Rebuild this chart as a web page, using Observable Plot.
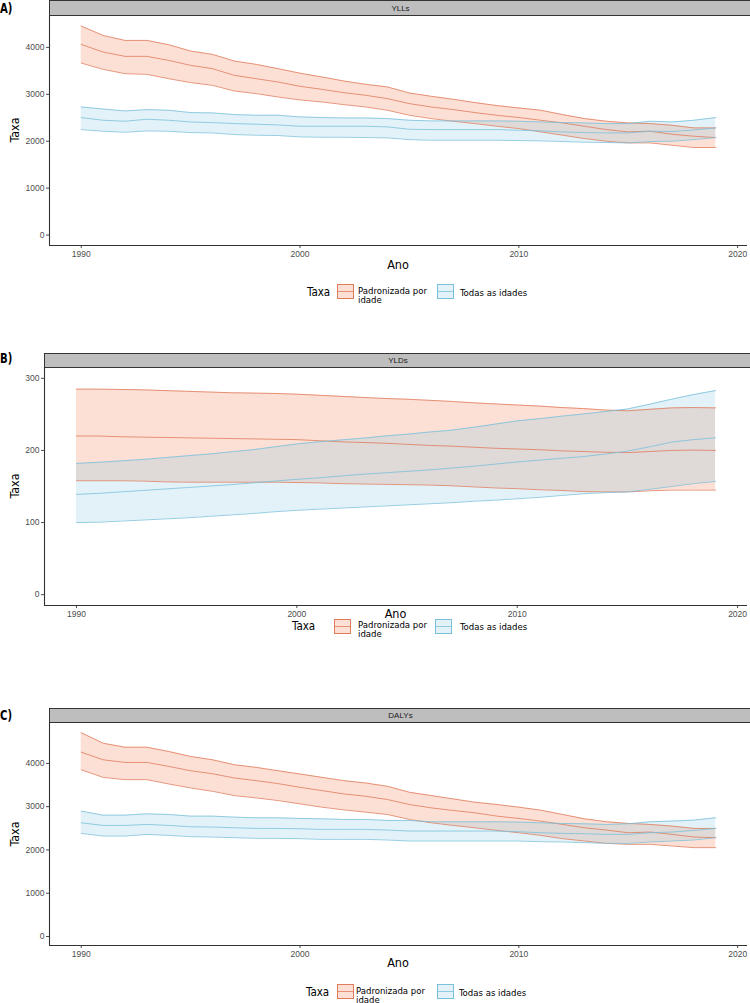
<!DOCTYPE html>
<html><head><meta charset="utf-8">
<script src="https://cdn.jsdelivr.net/npm/d3@7"></script>
<script src="https://cdn.jsdelivr.net/npm/@observablehq/plot@0.6"></script>
<style>
body{margin:0;background:#fff;}
#root{position:relative;width:750px;height:1003px;overflow:hidden;font-family:"Liberation Sans",Arial,sans-serif;}
.abs{position:absolute;white-space:nowrap;}
.cond{font-family:"Liberation Sans Narrow","DejaVu Sans Condensed","Roboto Condensed",sans-serif;}
.strip{position:absolute;background:#BEBEBE;border:1px solid #333;box-sizing:border-box;font-size:8px;color:#1a1a1a;display:flex;align-items:center;justify-content:center;}
</style></head><body><div id="root"></div>
<script>
const years = [1990,1991,1992,1993,1994,1995,1996,1997,1998,1999,2000,2001,2002,2003,2004,2005,2006,2007,2008,2009,2010,2011,2012,2013,2014,2015,2016,2017,2018,2019];
const seriesNames = ["Padronizada por idade", "Todas as idades"];
const legendTitle = "Taxa";
const xLabel = "Ano";
const yLabel = "Taxa";
const xTicks = [1990, 2000, 2010, 2020];

// A) YLLs
const A_std_hi  = [4455,4255,4149,4149,4057,3922,3851,3709,3638,3546,3450,3369,3284,3213,3156,3028,2957,2894,2823,2759,2709,2660,2567,2482,2426,2390,2376,2340,2284,2284];
const A_std_mid = [4064,3900,3809,3809,3723,3617,3546,3404,3333,3262,3170,3106,3035,2979,2908,2801,2730,2674,2610,2553,2504,2447,2390,2319,2248,2199,2213,2149,2106,2078];
const A_std_lo  = [3666,3532,3440,3426,3333,3249,3191,3071,3014,2943,2880,2837,2780,2730,2660,2553,2482,2426,2376,2319,2270,2199,2128,2057,2000,1964,1964,1915,1866,1866];
const A_all_hi  = [2730,2687,2645,2674,2660,2610,2603,2568,2553,2553,2518,2504,2496,2496,2482,2447,2433,2433,2433,2433,2426,2411,2397,2390,2376,2376,2426,2411,2447,2504];
const A_all_mid = [2504,2447,2426,2468,2447,2411,2397,2376,2362,2347,2319,2319,2319,2319,2305,2255,2248,2248,2248,2248,2234,2220,2199,2184,2177,2177,2213,2206,2240,2284];
const A_all_lo  = [2248,2213,2191,2220,2213,2184,2177,2142,2128,2121,2092,2085,2085,2078,2071,2035,2021,2021,2021,2021,2014,2007,1993,1979,1972,1964,1993,2000,2035,2078];

// B) YLDs
const B_std_hi  = [285,285,284.5,284,283,282,281,280,279.5,279,278,276.5,275,273.5,272,271,269.5,268,266,264.5,263,261.5,259.5,258,256,255,257,259,259.5,259];
const B_std_mid = [220,220,219,218.5,218,217.5,217,216.5,216,215.5,215,213.5,212,211,210,208.5,207,206,204.5,203,202,201,199.5,198.5,197.5,197,198.5,200,200.5,200];
const B_std_lo  = [158,158,158,157.5,156.5,156,156,156,156,156,155.5,155,154,153.5,153,152.5,152,151,149.5,148,147,145.5,144.5,143,142.5,142.5,144,145,145,145];
const B_all_hi  = [182,183.5,185.5,187.5,190,192.5,195,198,201,205,209,212,214.5,217,220,222.5,225.5,228,232,236.5,241,244,247.5,250.5,254,257.5,264,271,277.5,283];
const B_all_mid = [139,140.5,142.5,144.5,146.5,148.5,150.5,152.5,155,157.5,160,162,164.5,167,169,171,173,175.5,178,181,184,186.5,189,191.5,195,199,205,211.5,215,217.5];
const B_all_lo  = [100,100.5,102,103.5,105,106.5,108.5,110.5,112.5,115,117,118.5,120,121.5,123,124.5,126,127.5,129.5,131,133,135,137.5,140,141.5,142.5,146,150,154,157];

// C) DALYs
const C_std_hi  = [4710,4467,4375,4375,4276,4161,4084,3969,3908,3831,3755,3678,3602,3548,3471,3333,3257,3180,3103,3050,2989,2920,2820,2720,2652,2613,2590,2552,2498,2498];
const C_std_mid = [4261,4084,4023,4023,3931,3831,3762,3663,3602,3533,3448,3372,3295,3241,3165,3050,2973,2912,2858,2782,2728,2667,2590,2513,2460,2398,2414,2360,2299,2284];
const C_std_lo  = [3854,3678,3625,3625,3525,3433,3356,3257,3203,3142,3065,2989,2927,2874,2820,2705,2628,2567,2513,2452,2398,2337,2261,2207,2153,2130,2130,2092,2054,2054];
const C_all_hi  = [2897,2805,2805,2835,2820,2782,2782,2759,2743,2743,2728,2720,2705,2705,2682,2682,2652,2652,2652,2652,2644,2628,2613,2605,2590,2605,2652,2667,2690,2743];
const C_all_mid = [2628,2567,2567,2590,2567,2536,2529,2513,2498,2498,2490,2475,2475,2475,2460,2437,2437,2437,2437,2437,2421,2398,2383,2375,2360,2360,2398,2414,2452,2498];
const C_all_lo  = [2383,2322,2322,2360,2337,2307,2299,2284,2268,2268,2261,2245,2245,2245,2230,2207,2207,2207,2207,2207,2207,2192,2184,2169,2153,2153,2184,2207,2230,2284];

const fillCol = {"Padronizada por idade": "#F06432", "Todas as idades": "#6EBEDC"};
const lineCol = {"Padronizada por idade": "#E07B5C", "Todas as idades": "#7BC0DA"};

function rows(name, lo, mid, hi) {
  return years.map((y, i) => ({year: y, series: name, lo: lo[i], mid: mid[i], hi: hi[i]}));
}

const panels = [
  {tag: "A)", tagY: 1, strip: "YLLs", stripTop: 0, stripBottom: 15, left: 49, plotTop: 15, plotBottom: 245,
   yDomain: [-223, 4680], yTicks: [0, 1000, 2000, 3000, 4000], anoY: 264, legendY: 291.5,
   lg: {taxa: 307, k1: 337, t1: 358, k2: 437, t2: 460},
   std: rows(seriesNames[0], A_std_lo, A_std_mid, A_std_hi), all: rows(seriesNames[1], A_all_lo, A_all_mid, A_all_hi)},
  {tag: "B)", tagY: 351, strip: "YLDs", stripTop: 352.5, stripBottom: 367, left: 44, plotTop: 367, plotBottom: 605,
   yDomain: [-15, 315], yTicks: [0, 100, 200, 300], anoY: 613, legendY: 626,
   lg: {taxa: 292, k1: 334, t1: 358, k2: 435, t2: 460},
   std: rows(seriesNames[0], B_std_lo, B_std_mid, B_std_hi), all: rows(seriesNames[1], B_all_lo, B_all_mid, B_all_hi)},
  {tag: "C)", tagY: 708, strip: "DALYs", stripTop: 707.5, stripBottom: 722, left: 49, plotTop: 722, plotBottom: 945,
   yDomain: [-208, 4946], yTicks: [0, 1000, 2000, 3000, 4000], anoY: 962, legendY: 991.5,
   lg: {taxa: 306, k1: 337, t1: 356, k2: 437, t2: 459},
   std: rows(seriesNames[0], C_std_lo, C_std_mid, C_std_hi), all: rows(seriesNames[1], C_all_lo, C_all_mid, C_all_hi)}
];

const root = document.getElementById("root");
const xDomain = [1988.55, 2020.45];
const plotRight = 747;

function addDiv(html, css, cls) {
  const d = document.createElement("div");
  d.className = "abs " + (cls || "");
  d.innerHTML = html;
  Object.assign(d.style, css);
  root.appendChild(d);
  return d;
}

function keySvg(name) {
  return `<svg width="17" height="15" style="display:block"><rect x="0.5" y="0.5" width="16" height="14" fill="${fillCol[name]}" fill-opacity="0.2" stroke="${lineCol[name]}" stroke-width="1"/><line x1="0.5" x2="16.5" y1="7.5" y2="7.5" stroke="${lineCol[name]}" stroke-width="0.8"/></svg>`;
}

for (const p of panels) {
  // tag
  addDiv(p.tag, {left: "0px", top: p.tagY + "px", fontSize: "14px", fontWeight: "bold", color: "#000", lineHeight: "14px", transform: "scaleX(0.8)", transformOrigin: "left center"}, "cond");
  // strip
  const s = document.createElement("div");
  s.className = "strip";
  s.textContent = p.strip;
  Object.assign(s.style, {left: p.left + "px", top: p.stripTop + "px", width: (750 - p.left + 2) + "px", height: (p.stripBottom - p.stripTop + 1) + "px"});
  root.appendChild(s);

  const innerH = p.plotBottom - p.plotTop;
  const mb = 22;
  const marks = [];
  for (const d of [p.std, p.all]) {
    const n = d[0].series;
    marks.push(Plot.areaY(d, {x: "year", y1: "lo", y2: "hi", fill: fillCol[n], fillOpacity: 0.2}));
  }
  for (const d of [p.std, p.all]) {
    const n = d[0].series;
    for (const k of ["lo", "mid", "hi"]) {
      marks.push(Plot.lineY(d, {x: "year", y: k, stroke: lineCol[n], strokeWidth: 0.8}));
    }
  }
  marks.push(Plot.ruleX([xDomain[0]], {stroke: "#333", strokeWidth: 1.1}));
  marks.push(Plot.ruleY([p.yDomain[0]], {stroke: "#333", strokeWidth: 1.1}));

  const chart = Plot.plot({
    width: 750,
    height: innerH + mb,
    marginLeft: p.left,
    marginRight: 750 - plotRight,
    marginTop: 0,
    marginBottom: mb,
    style: {fontSize: "8.5px", fontFamily: "'Liberation Sans', Arial, sans-serif", color: "#4D4D4D", background: "transparent", overflow: "visible"},
    x: {domain: xDomain, ticks: xTicks, tickFormat: d3.format("d"), tickSize: 3, tickPadding: 2, label: null},
    y: {domain: p.yDomain, ticks: p.yTicks, tickFormat: d3.format("d"), tickSize: 3, tickPadding: 2, label: null},
    marks
  });
  chart.style.position = "absolute";
  chart.style.left = "0px";
  chart.style.top = p.plotTop + "px";
  root.appendChild(chart);

  // y label
  addDiv(yLabel, {left: "14px", top: ((p.plotTop + p.plotBottom) / 2) + "px", fontSize: "12.5px", color: "#000", transform: "translate(-50%,-50%) rotate(-90deg)"}, "cond");
  // x label
  addDiv(xLabel, {left: ((p.left + plotRight) / 2) + "px", top: p.anoY + "px", fontSize: "12.5px", color: "#000", transform: "translate(-50%,-50%)"}, "cond");
  // legend
  addDiv(legendTitle, {left: p.lg.taxa + "px", top: p.legendY + "px", fontSize: "11.5px", color: "#000", transform: "translateY(-50%)"}, "cond");
  addDiv(keySvg(seriesNames[0]), {left: p.lg.k1 + "px", top: (p.legendY - 7.5) + "px"});
  addDiv("Padronizada por<br>idade", {left: p.lg.t1 + "px", top: (p.legendY - 6) + "px", fontSize: "9.5px", lineHeight: "9px", color: "#000"}, "cond");
  addDiv(keySvg(seriesNames[1]), {left: p.lg.k2 + "px", top: (p.legendY - 7.5) + "px"});
  addDiv("Todas as idades", {left: p.lg.t2 + "px", top: p.legendY + "px", fontSize: "9.5px", color: "#000", transform: "translateY(-50%)"}, "cond");
}
</script></body></html>
